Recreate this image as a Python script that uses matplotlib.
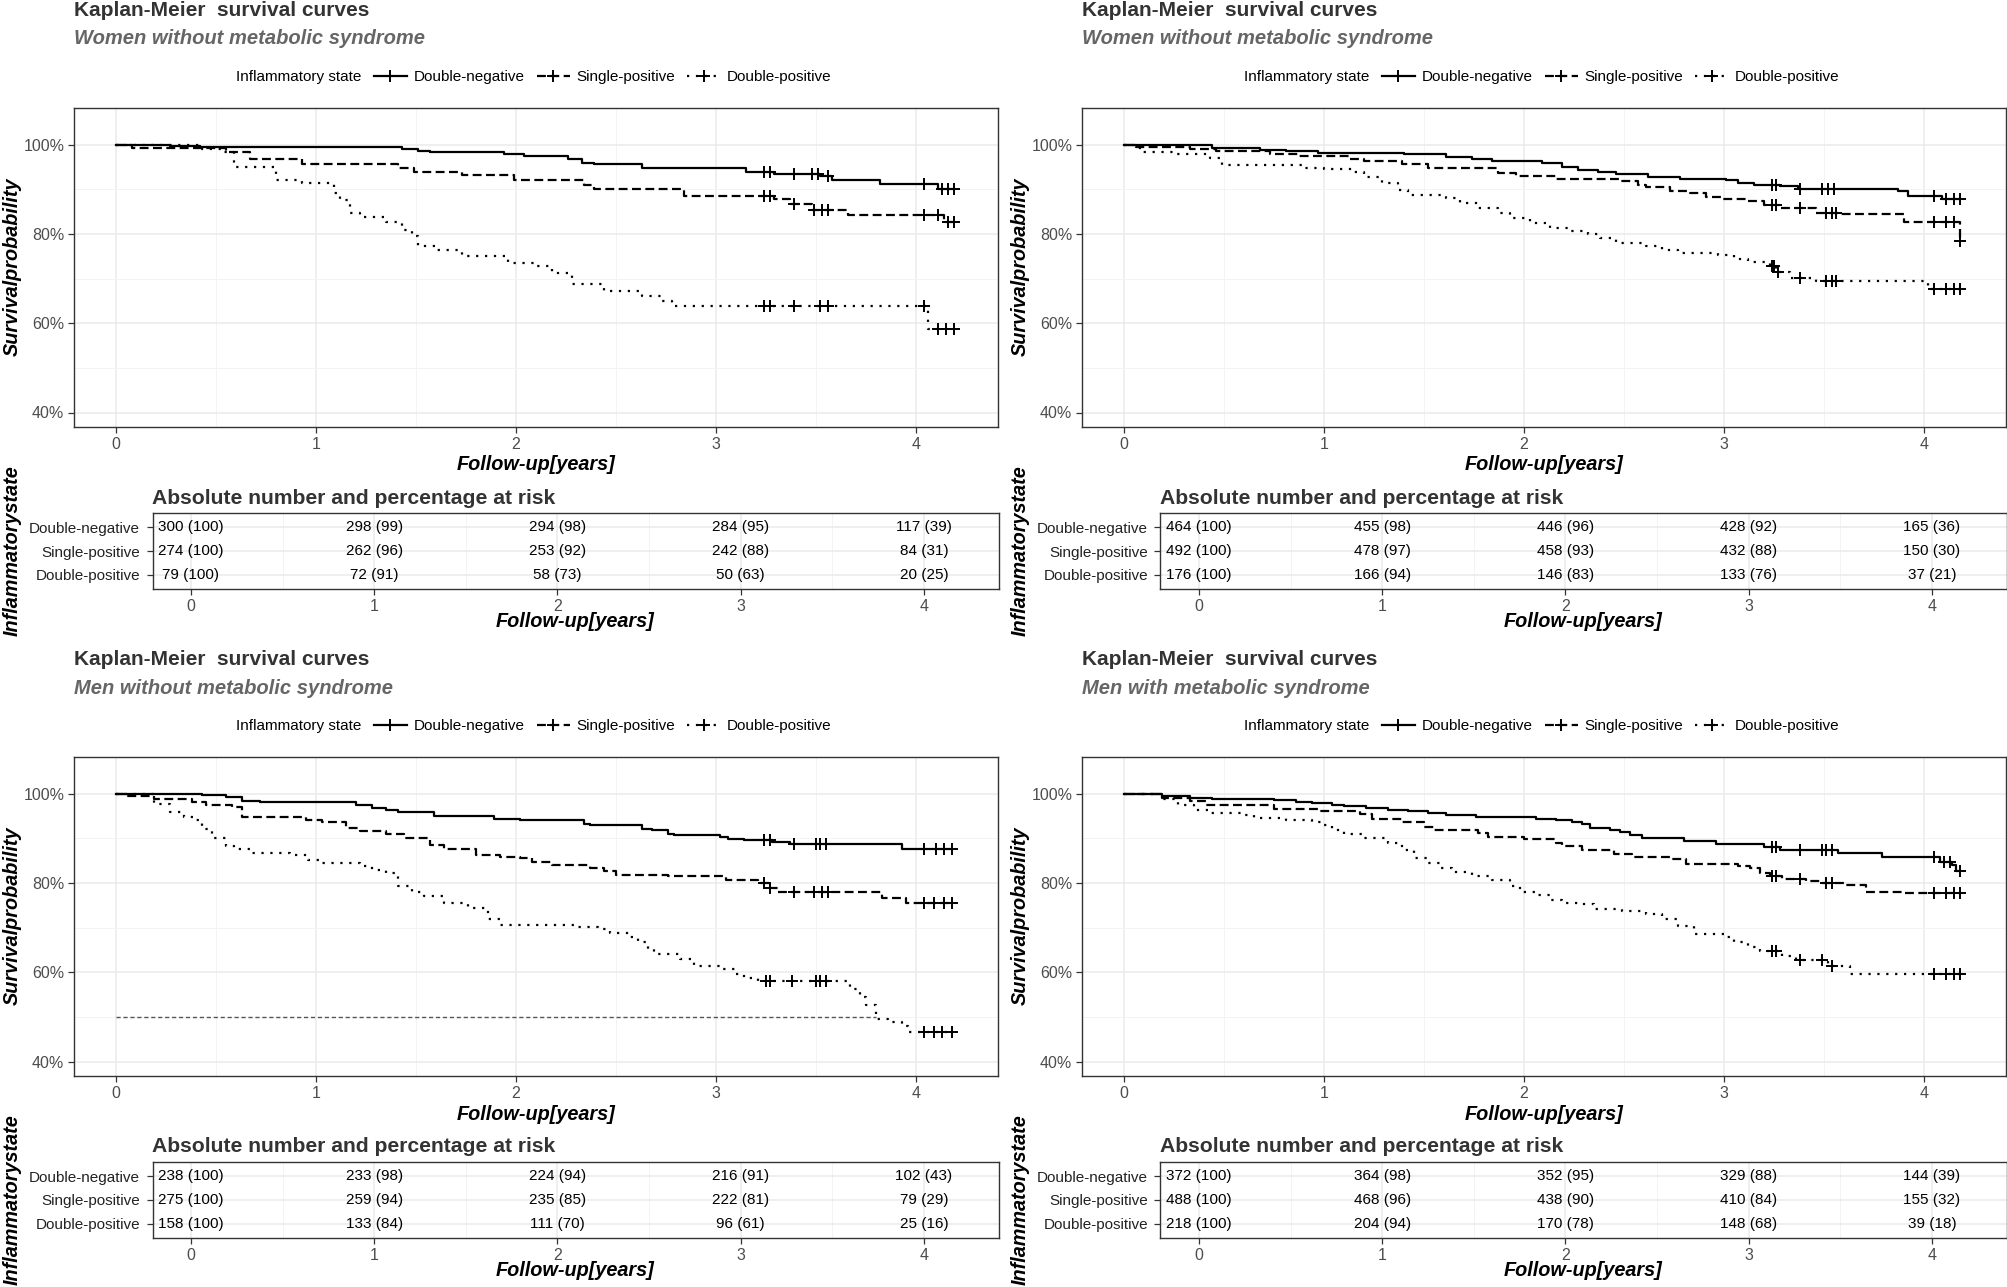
import numpy as np
import matplotlib
matplotlib.use("Agg")
import matplotlib.pyplot as plt
from matplotlib.lines import Line2D
from matplotlib.ticker import FixedLocator, FuncFormatter

plt.rcParams['font.family'] = ['Liberation Sans', 'DejaVu Sans']

groups = ["Double-negative", "Single-positive", "Double-positive"]
years = [0, 1, 2, 3, 4]
subtitles = ["Women without metabolic syndrome", "Women without metabolic syndrome",
             "Men without metabolic syndrome", "Men with metabolic syndrome"]

# survival steps (time in years, survival in %) and censoring times
# panel 1: top left
p1_dn_t = [0, 0.27, 0.42, 1.43, 1.51, 1.57, 1.94, 2.04, 2.26, 2.33, 2.39, 2.63, 3.15, 3.29, 3.52, 3.58, 3.82, 4.11]
p1_dn_s = [100, 99.7, 99.4, 99.0, 98.6, 98.3, 98.0, 97.4, 96.9, 96.0, 95.6, 94.7, 93.9, 93.5, 92.9, 92.1, 91.3, 90.0]
p1_dn_c = [3.24, 3.27, 3.39, 3.48, 3.51, 3.56, 4.04, 4.13, 4.16, 4.19]
p1_sp_t = [0, 0.08, 0.55, 0.67, 0.93, 1.41, 1.49, 1.73, 1.99, 2.34, 2.39, 2.84, 3.29, 3.37, 3.48, 3.66, 4.14]
p1_sp_s = [100, 99.2, 98.4, 96.8, 95.6, 94.9, 93.9, 93.2, 92.1, 91.1, 90.0, 88.5, 87.9, 86.7, 85.3, 84.3, 82.6]
p1_sp_c = [3.24, 3.27, 3.39, 3.49, 3.53, 3.56, 4.04, 4.11, 4.16, 4.19]
p1_dp_t = [0, 0.43, 0.53, 0.59, 0.80, 0.93, 1.09, 1.12, 1.17, 1.22, 1.35, 1.43, 1.48, 1.51, 1.60, 1.73,
           1.96, 2.09, 2.18, 2.28, 2.44, 2.63, 2.73, 2.78, 4.06]
p1_dp_s = [100, 99.0, 98.4, 95.0, 92.1, 91.5, 89.3, 87.6, 84.7, 83.8, 82.8, 81.0, 79.5, 77.3, 76.5, 75.0,
           73.6, 72.8, 71.3, 68.7, 67.3, 66.1, 65.0, 63.8, 58.7]
p1_dp_c = [3.24, 3.27, 3.39, 3.52, 3.56, 4.04, 4.11, 4.15, 4.19]

# panel 2: top right
p2_dn_t = [0, 0.14, 0.44, 0.68, 0.81, 0.97, 1.40, 1.61, 1.74, 1.84, 2.09, 2.19, 2.27, 2.37, 2.46, 2.62,
           2.78, 3.01, 3.07, 3.15, 3.28, 3.37, 3.87, 3.92, 4.09]
p2_dn_s = [100, 99.85, 99.3, 98.9, 98.5, 98.1, 97.9, 97.3, 96.8, 96.4, 95.9, 95.0, 94.4, 93.9, 93.4, 92.8,
           92.4, 92.0, 91.5, 91.1, 90.7, 90.1, 89.6, 88.5, 87.9]
p2_dn_c = [3.24, 3.26, 3.38, 3.49, 3.52, 3.55, 4.05, 4.11, 4.15, 4.18]
p2_sp_t = [0, 0.06, 0.33, 0.46, 0.73, 0.87, 1.13, 1.20, 1.39, 1.52, 1.87, 1.96, 2.16, 2.48, 2.57, 2.61,
           2.73, 2.83, 2.91, 2.99, 3.12, 3.20, 3.28, 3.46, 3.58, 3.90, 4.18]
p2_sp_s = [100, 99.6, 99.0, 98.6, 98.0, 97.6, 96.9, 96.3, 95.6, 94.7, 93.6, 93.0, 92.4, 91.9, 91.1, 90.5,
           89.6, 89.1, 88.4, 87.8, 87.3, 86.5, 85.8, 84.8, 84.5, 82.7, 78.4]
p2_sp_c = [3.24, 3.26, 3.38, 3.51, 3.54, 3.56, 4.05, 4.11, 4.15, 4.18]
p2_dp_t = [0, 0.06, 0.09, 0.25, 0.43, 0.49, 0.89, 1.00, 1.15, 1.20, 1.29, 1.37, 1.42, 1.61, 1.68, 1.77,
           1.87, 1.93, 2.03, 2.13, 2.22, 2.32, 2.38, 2.46, 2.61, 2.69, 2.77, 2.97, 3.05, 3.12, 3.23, 3.26,
           3.33, 3.46, 4.02]
p2_dp_s = [100, 99.3, 98.4, 97.9, 97.0, 95.5, 94.9, 94.6, 93.9, 92.7, 91.5, 89.9, 88.8, 88.0, 86.9, 85.8,
           84.7, 83.6, 82.4, 81.3, 80.6, 80.1, 79.1, 78.0, 77.4, 76.5, 75.8, 75.3, 74.3, 73.7, 72.8, 71.5,
           70.2, 69.5, 67.6]
p2_dp_c = [3.24, 3.25, 3.27, 3.38, 3.51, 3.54, 3.56, 4.05, 4.11, 4.15, 4.18]

# panel 3: bottom left
p3_dn_t = [0, 0.43, 0.55, 0.63, 0.72, 1.20, 1.28, 1.35, 1.41, 1.59, 1.89, 2.02, 2.34, 2.37, 2.63, 2.68,
           2.76, 2.79, 3.02, 3.06, 3.14, 3.28, 3.37, 3.93]
p3_dn_s = [100, 99.8, 99.3, 98.5, 98.1, 97.6, 96.9, 96.3, 95.9, 95.0, 94.4, 94.1, 93.3, 93.0, 92.2, 91.9,
           91.1, 90.7, 90.4, 89.9, 89.6, 89.1, 88.7, 87.6]
p3_dn_c = [3.24, 3.27, 3.39, 3.50, 3.52, 3.55, 4.04, 4.10, 4.14, 4.18]
p3_sp_t = [0, 0.06, 0.19, 0.38, 0.45, 0.58, 0.63, 0.95, 1.03, 1.15, 1.22, 1.35, 1.44, 1.57, 1.64, 1.80,
           1.92, 2.02, 2.08, 2.18, 2.37, 2.44, 2.50, 2.76, 3.05, 3.21, 3.27, 3.31, 3.83, 3.95]
p3_sp_s = [100, 99.6, 98.9, 98.1, 97.4, 97.0, 94.7, 94.1, 93.7, 92.4, 91.7, 91.1, 90.0, 88.5, 87.6, 86.3,
           85.9, 85.6, 84.8, 84.1, 83.3, 82.6, 81.9, 81.5, 80.7, 80.1, 78.9, 78.0, 76.7, 75.6]
p3_sp_c = [3.24, 3.27, 3.39, 3.49, 3.53, 3.56, 4.04, 4.09, 4.14, 4.18]
p3_dp_t = [0, 0.19, 0.27, 0.34, 0.40, 0.43, 0.48, 0.55, 0.59, 0.67, 0.87, 0.96, 1.03, 1.22, 1.28, 1.35,
           1.41, 1.48, 1.54, 1.64, 1.76, 1.86, 1.92, 2.31, 2.41, 2.47, 2.57, 2.61, 2.66, 2.69, 2.82, 2.89,
           3.02, 3.10, 3.14, 3.21, 3.67, 3.72, 3.75, 3.80, 3.86, 3.93, 3.96]
p3_dp_s = [100, 97.8, 95.9, 94.7, 94.1, 92.2, 90.2, 88.3, 87.6, 86.8, 86.3, 85.2, 84.4, 83.9, 83.0, 82.2,
           79.3, 78.1, 77.0, 75.6, 74.4, 71.9, 70.7, 70.2, 69.6, 68.9, 67.8, 66.7, 65.2, 64.1, 63.0, 61.5,
           60.7, 59.6, 58.7, 58.0, 56.3, 54.4, 52.6, 49.6, 48.8, 48.0, 46.7]
p3_dp_c = [3.25, 3.27, 3.38, 3.50, 3.52, 3.55, 4.04, 4.09, 4.13, 4.18]

# panel 4: bottom right
p4_dn_t = [0, 0.19, 0.22, 0.33, 0.44, 0.75, 0.86, 0.94, 1.04, 1.10, 1.21, 1.32, 1.42, 1.52, 1.61, 1.76,
           2.06, 2.16, 2.24, 2.29, 2.33, 2.43, 2.48, 2.53, 2.59, 2.80, 2.96, 3.20, 3.28, 3.57, 3.79, 4.08,
           4.14, 4.16]
p4_dn_s = [100, 99.6, 99.4, 99.1, 98.9, 98.7, 98.1, 97.9, 97.6, 97.2, 96.8, 96.4, 96.1, 95.8, 95.2, 94.8,
           94.4, 94.1, 93.7, 93.3, 92.4, 92.0, 91.5, 90.7, 90.1, 89.4, 88.7, 88.1, 87.4, 86.7, 85.8, 84.8,
           84.1, 82.7]
p4_dn_c = [3.24, 3.26, 3.38, 3.49, 3.51, 3.54, 4.05, 4.10, 4.13, 4.18]
p4_sp_t = [0, 0.19, 0.33, 0.41, 0.75, 0.97, 1.18, 1.24, 1.39, 1.50, 1.55, 1.77, 1.82, 2.00, 2.16, 2.19,
           2.29, 2.45, 2.54, 2.73, 2.81, 3.07, 3.13, 3.18, 3.23, 3.29, 3.41, 3.49, 3.60, 3.71, 3.89]
p4_sp_s = [100, 99.1, 98.5, 97.4, 96.7, 96.1, 95.4, 94.4, 93.7, 92.6, 92.0, 91.3, 90.4, 89.8, 89.0, 88.3,
           87.4, 86.4, 85.9, 85.3, 84.2, 83.9, 83.3, 82.2, 81.5, 80.9, 80.4, 80.0, 79.6, 78.1, 77.8]
p4_sp_c = [3.24, 3.26, 3.38, 3.51, 3.54, 4.05, 4.11, 4.15, 4.18]
p4_dp_t = [0, 0.19, 0.27, 0.35, 0.43, 0.59, 0.65, 0.81, 0.94, 1.00, 1.04, 1.10, 1.20, 1.32, 1.39, 1.45,
           1.52, 1.58, 1.64, 1.74, 1.84, 1.93, 1.98, 2.06, 2.13, 2.19, 2.29, 2.35, 2.49, 2.61, 2.69, 2.77,
           2.85, 3.01, 3.05, 3.12, 3.18, 3.29, 3.36, 3.52, 3.63]
p4_dp_s = [100, 98.9, 97.4, 96.3, 95.7, 95.2, 94.6, 94.1, 93.7, 93.0, 91.9, 90.9, 90.0, 88.9, 87.4, 85.6,
           84.4, 83.3, 82.4, 81.5, 80.7, 79.3, 78.1, 77.4, 76.3, 75.6, 75.2, 74.2, 73.7, 73.0, 71.9, 70.4,
           68.5, 67.8, 66.7, 65.6, 64.7, 63.7, 62.8, 61.3, 59.6]
p4_dp_c = [3.24, 3.26, 3.38, 3.49, 3.54, 4.05, 4.11, 4.15, 4.18]

# numbers at risk (rows: double-negative, single-positive, double-positive)
p1_n = [[300, 298, 294, 284, 117], [274, 262, 253, 242, 84], [79, 72, 58, 50, 20]]
p1_pct = [[100, 99, 98, 95, 39], [100, 96, 92, 88, 31], [100, 91, 73, 63, 25]]
p2_n = [[464, 455, 446, 428, 165], [492, 478, 458, 432, 150], [176, 166, 146, 133, 37]]
p2_pct = [[100, 98, 96, 92, 36], [100, 97, 93, 88, 30], [100, 94, 83, 76, 21]]
p3_n = [[238, 233, 224, 216, 102], [275, 259, 235, 222, 79], [158, 133, 111, 96, 25]]
p3_pct = [[100, 98, 94, 91, 43], [100, 94, 85, 81, 29], [100, 84, 70, 61, 16]]
p4_n = [[372, 364, 352, 329, 144], [488, 468, 438, 410, 155], [218, 204, 170, 148, 39]]
p4_pct = [[100, 98, 95, 88, 39], [100, 96, 90, 84, 32], [100, 94, 78, 68, 18]]

W, H = 2008, 1287
fig = plt.figure(figsize=(W / 100, H / 100), dpi=100)

def rect(l, t, r, b):
    return [l / W, 1 - b / H, (r - l) / W, (b - t) / H]

def fx(x):
    return x / W

def fy(y):
    return 1 - y / H

line_styles = ['-', (0, (4, 2)), (0, (1, 3))]
XLIM = (-0.21, 4.41)
GRID = '#EBEBEB'
DARK = '#333333'
TICKC = '#4D4D4D'


def style_axes(ax):
    for sp in ax.spines.values():
        sp.set_color(DARK)
        sp.set_linewidth(1.0)
    ax.tick_params(which='major', length=4, width=0.9, color=DARK, labelcolor=TICKC,
                   labelsize=11.5, pad=3)
    ax.tick_params(which='minor', length=0)
    ax.grid(which='major', color=GRID, lw=1.1)
    ax.grid(which='minor', color='#F3F3F3', lw=0.7)
    ax.set_axisbelow(True)


def km_panel(dx, dy, subtitle, curves, n_risk, pct_risk, median_line=False):
    left, right = 74 + dx, 998 + dx
    ax = fig.add_axes(rect(left, 108 + dy, right, 427 + dy))
    style_axes(ax)
    for (t, s, c), ls in zip(curves, line_styles):
        t = np.array(t)
        s = np.array(s) / 100.0
        t_end = max(c)
        tt = np.append(t, t_end)
        ss = np.append(s, s[-1])
        ax.step(tt, ss, where='post', color='black', lw=1.6, ls=ls)
        idx = np.searchsorted(t, c, side='right') - 1
        ax.plot(c, s[idx], ls='none', marker='+', ms=9, mew=1.4, color='black')
        if median_line and s.min() <= 0.5:
            t_med = t[np.argmax(s <= 0.5)]
            ax.hlines(0.5, 0, t_med, color='#555555', lw=1.0, ls=(0, (3, 2)))
    ax.set_xlim(*XLIM)
    ax.set_ylim(0.3675, 1.0825)
    ax.xaxis.set_major_locator(FixedLocator(years))
    ax.xaxis.set_minor_locator(FixedLocator([0.5, 1.5, 2.5, 3.5]))
    ax.yaxis.set_major_locator(FixedLocator([0.4, 0.6, 0.8, 1.0]))
    ax.yaxis.set_minor_locator(FixedLocator([0.5, 0.7, 0.9]))
    ax.yaxis.set_major_formatter(FuncFormatter(lambda v, p: f"{v * 100:.0f}%"))

    fig.text(fx(left), fy(11 + dy), "Kaplan-Meier  survival curves", fontsize=15,
             fontweight='bold', color=DARK, ha='left', va='center')
    fig.text(fx(left), fy(39 + dy), subtitle, fontsize=14.5, fontweight='bold',
             style='italic', color='#666666', ha='left', va='center')
    fig.text(fx(12 + dx), fy(267 + dy), "Survivalprobability", rotation=90, fontsize=14.3,
             fontweight='bold', style='italic', ha='center', va='center')
    fig.text(fx((left + right) / 2), fy(465 + dy), "Follow-up[years]", fontsize=14.3,
             fontweight='bold', style='italic', ha='center', va='center')

    handles = [Line2D([], [], color='none')]
    for ls in line_styles:
        handles.append(Line2D([], [], color='black', lw=1.6, ls=ls, marker='+', ms=9, mew=1.4))
    fig.legend(handles, ["Inflammatory state"] + groups, loc='center',
               bbox_to_anchor=(fx((left + right) / 2 - 22), fy(77 + dy)), ncol=4,
               frameon=False, fontsize=11, handlelength=2.2, handletextpad=0.4,
               columnspacing=0.8, numpoints=1)

    # risk table
    rl = 152.5 + dx
    rax = fig.add_axes(rect(rl, 513 + dy, right + 1, 589 + dy))
    style_axes(rax)
    rax.set_xlim(*XLIM)
    rax.set_ylim(0.4, 3.6)
    rax.xaxis.set_major_locator(FixedLocator(years))
    rax.xaxis.set_minor_locator(FixedLocator([0.5, 1.5, 2.5, 3.5]))
    rax.set_yticks([3, 2, 1])
    rax.set_yticklabels(groups, color='#222222', fontsize=11)
    rax.tick_params(axis='y', pad=5)
    rax.grid(which='minor', axis='y', visible=False)
    for i, row in enumerate(n_risk):
        for j, yr in enumerate(years):
            rax.text(yr, 3 - i, f"{row[j]} ({pct_risk[i][j]})", ha='center', va='center',
                     fontsize=11, color='black')
    fig.text(fx(rl), fy(498 + dy), "Absolute number and percentage at risk", fontsize=15.2,
             fontweight='bold', color=DARK, ha='left', va='center')
    fig.text(fx((rl + right) / 2), fy(622 + dy), "Follow-up[years]", fontsize=14.3,
             fontweight='bold', style='italic', ha='center', va='center')
    fig.text(fx(12 + dx), fy(551 + dy), "Inflammatorystate", rotation=90, fontsize=14.3,
             fontweight='bold', style='italic', ha='center', va='center')


km_panel(0, 0, subtitles[0],
         [(p1_dn_t, p1_dn_s, p1_dn_c), (p1_sp_t, p1_sp_s, p1_sp_c), (p1_dp_t, p1_dp_s, p1_dp_c)],
         p1_n, p1_pct)
km_panel(1008, 0, subtitles[1],
         [(p2_dn_t, p2_dn_s, p2_dn_c), (p2_sp_t, p2_sp_s, p2_sp_c), (p2_dp_t, p2_dp_s, p2_dp_c)],
         p2_n, p2_pct)
km_panel(0, 649, subtitles[2],
         [(p3_dn_t, p3_dn_s, p3_dn_c), (p3_sp_t, p3_sp_s, p3_sp_c), (p3_dp_t, p3_dp_s, p3_dp_c)],
         p3_n, p3_pct, median_line=True)
km_panel(1008, 649, subtitles[3],
         [(p4_dn_t, p4_dn_s, p4_dn_c), (p4_sp_t, p4_sp_s, p4_sp_c), (p4_dp_t, p4_dp_s, p4_dp_c)],
         p4_n, p4_pct)

fig.savefig("out.png", dpi=100)
